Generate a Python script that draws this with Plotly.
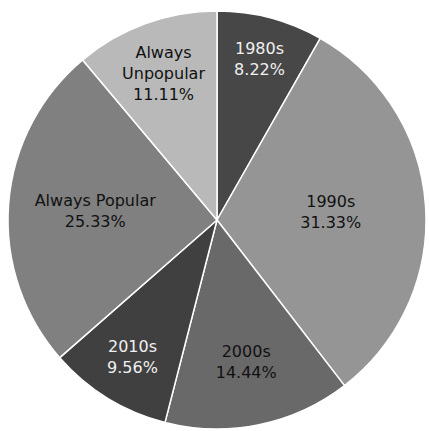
import plotly.graph_objects as go

categories = ["1980s", "1990s", "2000s", "2010s", "Always Popular", "Always Unpopular"]
display_labels = ["1980s", "1990s", "2000s", "2010s", "Always Popular", "Always<br>Unpopular"]
counts = [37, 141, 65, 43, 114, 50]
slice_colors = ["#474747", "#959595", "#696969", "#404040", "#808080", "#b9b9b9"]
text_colors = ["#f0f0f0", "#111111", "#111111", "#f0f0f0", "#111111", "#111111"]

W, H = 429, 431
cx, cy, r = 217, 220, 209

fig = go.Figure(go.Pie(
    labels=categories,
    values=counts,
    text=display_labels,
    texttemplate="%{text}<br>%{percent:.2%}",
    textposition="inside",
    insidetextorientation="horizontal",
    sort=False,
    direction="clockwise",
    rotation=0,
    marker=dict(colors=slice_colors, line=dict(color="#ffffff", width=1.5)),
    insidetextfont=dict(family="DejaVu Sans", size=16, color=text_colors),
    showlegend=False,
    hoverinfo="label+percent",
    domain=dict(x=[(cx - r) / W, (cx + r) / W], y=[(H - cy - r) / H, (H - cy + r) / H]),
))

fig.update_layout(
    width=W, height=H,
    margin=dict(l=0, r=0, t=0, b=0),
    paper_bgcolor="#ffffff",
    plot_bgcolor="#ffffff",
)

fig.write_html("out.html")
